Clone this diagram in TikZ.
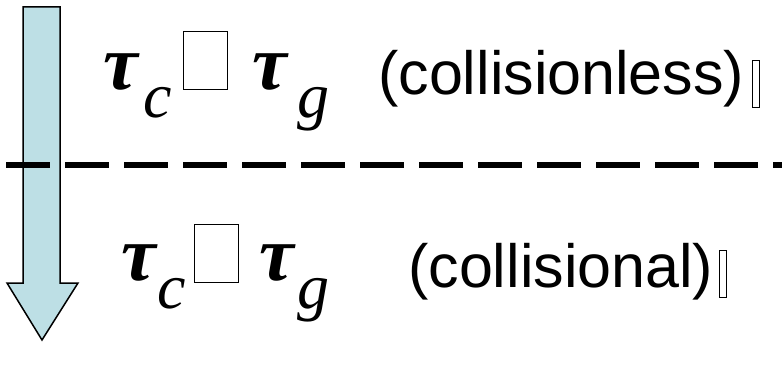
\documentclass[tikz,border=0pt]{standalone}
\usepackage{fontspec}
\setmainfont{Liberation Serif}
\newfontfamily\arialfont{Liberation Sans}
\usetikzlibrary{calc,positioning}
\definecolor{arrowblue}{RGB}{189,223,229}

\begin{document}
\begin{tikzpicture}[x=1pt,y=-1pt,
  tau/.style={anchor=base west, inner sep=0pt, font=\fontsize{78}{80}\selectfont\bfseries\itshape},
  sub/.style={anchor=base west, inner sep=0pt, font=\fontsize{64}{66}\selectfont\itshape},
  glyphbox/.style={draw, line width=1pt, inner sep=0pt, minimum width=44pt, minimum height=58pt, anchor=north west},
  lab/.style={anchor=base west, inner sep=0pt, font=\arialfont\fontsize{61}{64}\selectfont},
  thinbox/.style={draw, line width=0.8pt, inner sep=0pt, minimum width=7pt, minimum height=47pt, anchor=north west},
  divider/.style={line width=6pt, dash pattern=on 44pt off 15pt}
]
\useasboundingbox (0,0) rectangle (782,377);

% big arrow
\draw[line width=1.5pt, fill=arrowblue, line join=miter]
  (23,7) -- (60,7) -- (60,283) -- (78,283) -- (42,340) -- (7,283) -- (23,283) -- cycle;

% upper regime
\node[tau] (tauc1) at (103,90) {τ};
\node[sub] (c1) at (143,118) {c};
\node[glyphbox] (box1) at (183,31) {};
\node[tau] (taug1) at (252,90) {τ};
\node[sub] (g1) at (297,118) {g};
\node[lab] (less) at (378,95) {(collisionless)};
\node[thinbox] (end1) at (752,60) {};

% divider
\coordinate (dl) at (6,165);
\coordinate (dr) at (782,165);
\draw[divider] (dl) -- (dr);

% lower regime
\node[tau] (tauc2) at (121,280) {τ};
\node[sub] (c2) at (157,308) {c};
\node[glyphbox] (box2) at (194,224) {};
\node[tau] (taug2) at (259,280) {τ};
\node[sub] (g2) at (297,308) {g};
\node[lab] (coll) at (408,287) {(collisional)};
\node[thinbox] (end2) at (719,250) {};
\end{tikzpicture}
\end{document}
